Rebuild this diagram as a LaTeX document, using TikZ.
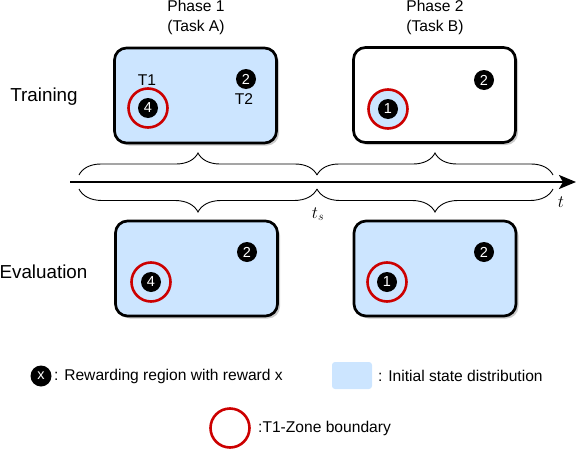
\documentclass[tikz,border=0pt]{standalone}
\usepackage{fontspec}
\setmainfont{Liberation Sans}
\usetikzlibrary{decorations.pathreplacing,arrows.meta,shadows}
\definecolor{lblue}{RGB}{204,229,255}
\definecolor{zred}{RGB}{204,0,0}
\begin{document}
\begin{tikzpicture}[x=1pt,y=-1pt,
  big/.style={font=\fontsize{18.8}{22}\selectfont},
  small/.style={font=\fontsize{15.6}{20}\selectfont},
  panel/.style={draw=black, line width=2.7pt, rounded corners=12pt,
    minimum width=162pt, minimum height=95pt, inner sep=0pt,
    drop shadow={shadow xshift=2.5pt, shadow yshift=-2.5pt, fill=black!45, opacity=0.45}},
  num/.style={circle, fill=black, text=white, minimum size=20pt, inner sep=0pt,
    font=\fontsize{14.5}{16}\selectfont},
  zone/.style={circle, draw=zred, line width=2.6pt, minimum size=39pt, inner sep=0pt},
  brc/.style={decorate, line width=0.9pt},
]
\useasboundingbox (0,0) rectangle (576,450);

% phase labels
\node[small, align=center] (ph1) at (196,17) {Phase 1\\(Task A)};
\node[small, align=center] (ph2) at (435,17) {Phase 2\\(Task B)};

% row labels
\node[big] (trn) at (44,97) {Training};
\node[big] (evl) at (43.5,272) {Evaluation};

% panels
\node[panel, fill=lblue] (b1) at (195.5,95.5) {};
\node[panel, fill=white] (b2) at (434.5,95) {};
\node[panel, fill=lblue] (b3) at (196.5,268.5) {};
\node[panel, fill=lblue] (b4) at (435,268.5) {};

% training phase 1
\node[zone] (z1) at (148,108) {};
\node[num] (n14) at (148,108) {4};
\node[num] (n12) at (246,79) {2};
\node[small] (t1) at (147,80) {T1};
\node[small] (t2) at (244,99) {T2};

% training phase 2
\node[zone, fill=lblue] (z2) at (388,109) {};
\node[num] (n21) at (388,109) {1};
\node[num] (n22) at (484,80) {2};

% evaluation phase 1
\node[zone] (z3) at (151,282) {};
\node[num] (n34) at (151,282) {4};
\node[num] (n32) at (247,252) {2};

% evaluation phase 2
\node[zone] (z4) at (387,282) {};
\node[num] (n41) at (387,282) {1};
\node[num] (n42) at (484,252) {2};

% timeline
\coordinate (tl0) at (70,182);
\coordinate (tl1) at (576,182);
\draw[line width=2.2pt, -{Stealth[length=17pt, width=14pt, inset=4pt]}] (tl0) -- (tl1);

\coordinate (ba) at (79,175);
\coordinate (bm) at (317,175);
\coordinate (bb) at (553,175);
\coordinate (ca) at (79,189);
\coordinate (cm) at (317,189);
\coordinate (cb) at (553,189);
\draw[brc, decoration={brace, amplitude=22pt}] (ba) -- (bm);
\draw[brc, decoration={brace, amplitude=22pt}] (bm) -- (bb);
\draw[brc, decoration={brace, mirror, amplitude=23pt}] (ca) -- (cm);
\draw[brc, decoration={brace, mirror, amplitude=23pt}] (cm) -- (cb);

\node[font=\fontsize{17.5}{20}\selectfont] (ts) at (318,214) {$t_s$};
\node[font=\fontsize{17.5}{20}\selectfont] (tt) at (561,202) {$t$};

% legend
\node[num, minimum size=21pt] (lx) at (41,376) {x};
\node[small, anchor=west, inner sep=0pt] (lxt) at (54,376) {: Rewarding region with reward x};
\node[fill=lblue, rounded corners=3pt, minimum width=40pt, minimum height=27pt, inner sep=0pt] (lb) at (352,375.5) {};
\node[small, anchor=west, inner sep=0pt] (lbt) at (378,376) {: Initial state distribution};
\node[zone] (lz) at (230,428) {};
\node[small, anchor=west, inner sep=0pt] (lzt) at (258,428) {:T1-Zone boundary};
\end{tikzpicture}
\end{document}
